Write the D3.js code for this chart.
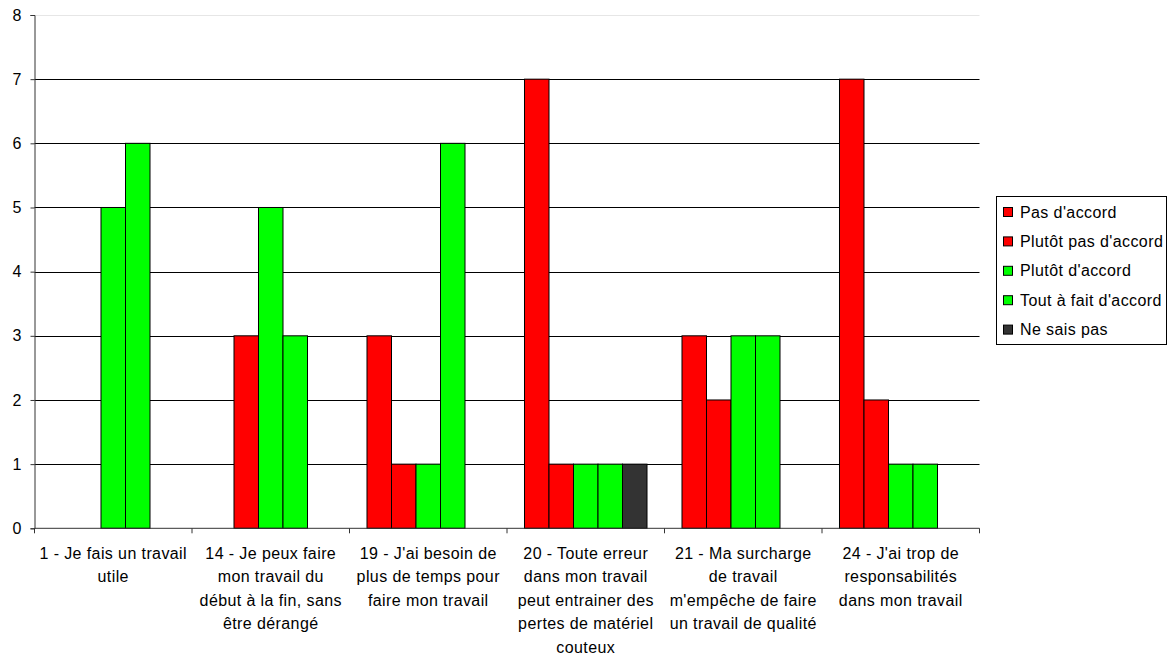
<!DOCTYPE html>
<html>
<head>
<meta charset="utf-8">
<script src="https://cdn.jsdelivr.net/npm/d3@7"></script>
<style>
  body { margin: 0; background: #fff; }
  text { font-family: "Liberation Sans", Arial, sans-serif; fill: #000; }
</style>
</head>
<body>
<div id="chart"></div>
<script>
// Data
const categories = [
  "1 - Je fais un travail\nutile",
  "14 - Je peux faire\nmon travail du\ndébut à la fin, sans\nêtre dérangé",
  "19 - J'ai besoin de\nplus de temps pour\nfaire mon travail",
  "20 - Toute erreur\ndans mon travail\npeut entrainer des\npertes de matériel\ncouteux",
  "21 - Ma surcharge\nde travail\nm'empêche de faire\nun travail de qualité",
  "24 - J'ai trop de\nresponsabilités\ndans mon travail"
]
const series = ["Pas d'accord", "Plutôt pas d'accord", "Plutôt d'accord", "Tout à fait d'accord", "Ne sais pas"]
const colors = ["#ff0000", "#ff0000", "#00ff00", "#00ff00", "#333333"]
const pasDaccord = [0, 0, 3, 7, 3, 7]
const plutotPas = [0, 3, 1, 1, 2, 2]
const plutotDaccord = [5, 5, 1, 1, 3, 1]
const toutAFait = [6, 3, 6, 1, 3, 1]
const neSaisPas = [0, 0, 0, 1, 0, 0]
const yTicks = [0, 1, 2, 3, 4, 5, 6, 7, 8]

const seriesValues = [pasDaccord, plutotPas, plutotDaccord, toutAFait, neSaisPas]

const width = 1172, height = 658
const plot = {left: 34.5, right: 979.5, top: 15, bottom: 528.3}

const svg = d3.select("#chart").append("svg")
    .attr("width", width)
    .attr("height", height)

const x0 = d3.scaleBand()
    .domain(d3.range(categories.length))
    .range([plot.left, plot.right])
const x1 = d3.scaleBand()
    .domain(d3.range(series.length))
    .range([0, x0.bandwidth()])
    .paddingOuter(0.714)
const y = d3.scaleLinear()
    .domain([0, 8])
    .range([plot.bottom, plot.top])

// gridlines
svg.append("g")
    .selectAll("line")
    .data(yTicks.filter(d => d > 0))
    .join("line")
    .attr("x1", plot.left)
    .attr("x2", plot.right)
    .attr("y1", d => Math.round(y(d)) + 0.5)
    .attr("y2", d => Math.round(y(d)) + 0.5)
    .attr("stroke", d => d === 8 ? "#e6e6e6" : "#000")
    .attr("stroke-width", 1)

// bars
const cells = []
seriesValues.forEach((vals, s) => vals.forEach((v, c) => { if (v > 0) cells.push({s, c, v}) }))
svg.append("g")
    .selectAll("rect")
    .data(cells)
    .join("rect")
    .attr("x", d => x0(d.c) + x1(d.s))
    .attr("y", d => y(d.v))
    .attr("width", x1.bandwidth())
    .attr("height", d => y(0) - y(d.v))
    .attr("fill", d => colors[d.s])
    .attr("stroke", "#000")
    .attr("stroke-width", 1)

// y axis
const yAxis = svg.append("g")
    .attr("transform", `translate(${plot.left},0)`)
    .call(d3.axisLeft(y).tickValues(yTicks).tickSize(4).tickPadding(9).tickFormat(d3.format("d")))
yAxis.select(".domain").attr("stroke", "#333")
yAxis.selectAll(".tick line").attr("stroke", "#333")
yAxis.selectAll(".tick text")
    .attr("font-size", 16)
    .attr("font-family", "Liberation Sans, Arial, sans-serif")
    .attr("fill", "#000")

// x axis
svg.append("line")
    .attr("x1", plot.left).attr("x2", plot.right)
    .attr("y1", plot.bottom).attr("y2", plot.bottom)
    .attr("stroke", "#333")
svg.append("g")
    .selectAll("line")
    .data(d3.range(categories.length + 1))
    .join("line")
    .attr("x1", i => i < categories.length ? x0(i) : plot.right)
    .attr("x2", i => i < categories.length ? x0(i) : plot.right)
    .attr("y1", plot.bottom)
    .attr("y2", plot.bottom + 5)
    .attr("stroke", "#333")

// category labels
categories.forEach((label, i) => {
    const t = svg.append("text")
        .attr("text-anchor", "middle")
        .attr("font-size", 16)
        .attr("letter-spacing", 0.4)
        .attr("x", x0(i) + x0.bandwidth() / 2)
        .attr("y", 559)
    label.split("\n").forEach((line, k) => {
        t.append("tspan")
            .attr("x", x0(i) + x0.bandwidth() / 2)
            .attr("y", 559 + k * 23.4)
            .text(line)
    })
})

// legend
const legend = svg.append("g")
svg.append("rect")
    .attr("x", 996.5).attr("y", 196.5)
    .attr("width", 170).attr("height", 148)
    .attr("fill", "#fff")
    .attr("stroke", "#000")
const item = svg.append("g")
    .selectAll("g")
    .data(series)
    .join("g")
    .attr("transform", (d, i) => `translate(0,${212 + i * 29.4})`)
item.append("rect")
    .attr("x", 1003.5).attr("y", -4.5)
    .attr("width", 9).attr("height", 9)
    .attr("fill", (d, i) => colors[i])
    .attr("stroke", "#000")
item.append("text")
    .attr("x", 1020)
    .attr("y", 5.5)
    .attr("font-size", 16)
    .attr("letter-spacing", 0.4)
    .text(d => d)
</script>
</body>
</html>
